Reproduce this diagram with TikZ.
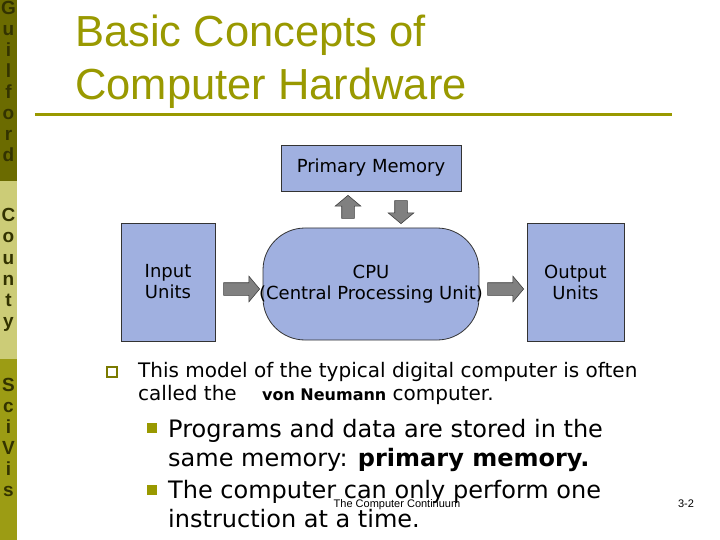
\documentclass[tikz,border=0pt]{standalone}
\usepackage{fontspec}
\setmainfont{DejaVu Sans}
\newfontfamily\arialfont{Liberation Sans}
\usepackage{tikz}
\usetikzlibrary{
  shapes.geometric, shapes.arrows,
  positioning, calc
}
\usepackage{xcolor}
\definecolor{sidedark}{RGB}{107,107,0}
\definecolor{sidelight}{RGB}{204,204,119}
\definecolor{sidemid}{RGB}{156,156,20}
\definecolor{letterdark}{RGB}{51,51,0}
\definecolor{titleolive}{RGB}{153,153,0}
\definecolor{boxblue}{RGB}{160,176,224}
\tikzset{
  % side bar letters
  sideletter/.style={
    anchor=base, inner sep=0pt, text=letterdark,
    font=\arialfont\fontsize{19}{20}\selectfont\bfseries
  },
  titletext/.style={
    anchor=base west, inner sep=0pt, text=titleolive,
    font=\arialfont\fontsize{43.5}{50}\selectfont
  },
  rule/.style={
    line width=3pt, draw=titleolive
  },
  % hardware diagram
  unitbox/.style={
    rectangle, fill=boxblue, draw=black!80, line width=0.8pt,
    align=center, inner sep=0pt, outer sep=0pt,
    minimum width=94pt, minimum height=118pt,
    font=\fontsize{18}{21}\selectfont
  },
  cpubox/.style={
    unitbox, rounded corners=42pt,
    minimum width=216pt, minimum height=112pt
  },
  membox/.style={
    unitbox, minimum width=180pt, minimum height=46pt
  },
  blockarrow/.style={
    single arrow, fill=black!50, draw=black!75, line width=0.6pt,
    inner xsep=0pt, inner ysep=6pt, outer sep=0pt,
    minimum height=36pt, minimum width=25pt,
    single arrow head extend=6.5pt, single arrow tip angle=100
  },
  % bullet list
  opensq/.style={
    rectangle, draw=titleolive!80!black, fill=white, line width=1.2pt,
    minimum size=10pt, inner sep=0pt
  },
  fullsq/.style={
    rectangle, fill=titleolive, minimum size=10pt, inner sep=0pt
  },
  bullettext/.style={
    anchor=base west, align=left, inner sep=0pt,
    font=\fontsize{20}{23}\selectfont
  },
  subtext/.style={
    anchor=base west, align=left, inner sep=0pt,
    font=\fontsize{24}{29}\selectfont
  },
  footer/.style={
    anchor=base, inner sep=0pt,
    font=\arialfont\fontsize{11}{13}\selectfont
  }
}

\begin{document}
\begin{tikzpicture}[x=1pt, y=-1pt]
  \useasboundingbox (0,0) rectangle (720,540);
  \fill[white] (0,0) rectangle (720,540);

  % --- side bar ---
  \fill[sidedark]  (0,0)   rectangle (17,181);
  \fill[sidelight] (0,181) rectangle (17,359);
  \fill[sidemid]   (0,359) rectangle (17,540);
  \foreach \ch [count=\i from 0] in {G,u,i,l,f,o,r,d}
    \node[sideletter] (gl\i) at (8.5,{15+21*\i}) {\ch};
  \foreach \ch [count=\i from 0] in {C,o,u,n,t,y}
    \node[sideletter] (cl\i) at (8.5,{222+21*\i}) {\ch};
  \foreach \ch [count=\i from 0] in {S,c,i,V,i,s}
    \node[sideletter] (sl\i) at (8.5,{391+21*\i}) {\ch};

  % --- title ---
  \node[titletext] (title1) at (75,47) {Basic Concepts of};
  \node[titletext] (title2) at (75,100) {Computer Hardware};
  \draw[rule] (35,115) -- (672,115);

  % --- hardware units ---
  \node[unitbox] (inp) at (168,282) {Input\\Units};
  \node[cpubox, right=48pt of inp, yshift=-2pt] (cpu)
    {CPU\\\makebox[0pt]{(Central Processing Unit)}};
  \node[unitbox, right=48pt of cpu, yshift=2pt, minimum width=97pt] (out)
    {Output\\Units};
  \node[membox, above=37pt of cpu] (mem) {Primary Memory};

  % block arrows between the units
  \node[blockarrow] (inarrow) at ($(inp.east)!0.5!(cpu.west)+(0,6)$) {};
  \node[blockarrow] (outarrow) at ($(cpu.east)!0.5!(out.west)+(0,6)$) {};
  \node[blockarrow, rotate=90, minimum height=23pt] (uparrow)
    at ($(mem.south)!0.5!(cpu.north)+(-23,0)$) {};
  \node[blockarrow, rotate=-90, minimum height=23pt] (downarrow)
    at ($(mem.south)!0.5!(cpu.north)+(30,0)$) {};

  % --- bullets ---
  \node[opensq] (sq1) at (112,372) {};
  \node[bullettext] (txt1) at (138,400)
    {This model of the typical digital computer is often\\
     called the\hspace{19pt} {\fontsize{16}{23}\selectfont\bfseries von Neumann} computer.};
  \node[fullsq] (sq2) at (152,428) {};
  \node[subtext] (txt2) at (168,466)
    {Programs and data are stored in the\\same memory: \textbf{primary memory.}};
  \node[fullsq] (sq3) at (152,490) {};
  \node[subtext] (txt3) at (168,527)
    {The computer can only perform one\\instruction at a time.};

  % --- footer ---
  \node[footer] (foot) at (397,507) {The Computer Continuum};
  \node[footer] (pgno) at (686,507) {3-2};

\end{tikzpicture}
\end{document}
